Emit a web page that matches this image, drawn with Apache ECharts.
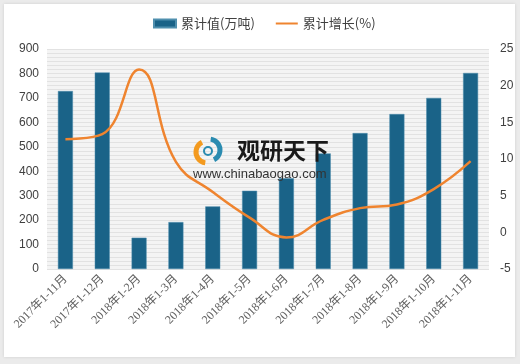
<!DOCTYPE html>
<html>
<head>
<meta charset="utf-8">
<script src="https://cdn.jsdelivr.net/npm/echarts@6/dist/echarts.min.js"></script>
<style>html,body{margin:0;padding:0;background:#ebebeb;}#c{width:520px;height:364px;}</style>
</head>
<body>
<div id="c"></div>
<script>
var categories = ['2017年1-11月','2017年1-12月','2018年1-2月','2018年1-3月','2018年1-4月','2018年1-5月','2018年1-6月','2018年1-7月','2018年1-8月','2018年1-9月','2018年1-10月','2018年1-11月'];
var cumulativeValue = [728, 804, 128, 192, 256, 320, 371, 473, 556, 634, 700, 802];
var cumulativeGrowth = [12.7, 13.4, 22.2, 9.6, 5.5, 2.0, -0.7, 1.7, 3.3, 3.8, 5.9, 9.7];
var leftTicks = {min: 0, max: 900, interval: 100};
var rightTicks = {min: -5, max: 25, interval: 5};

var chart = echarts.init(document.getElementById('c'), null, {renderer: 'canvas'});
var labelFont = '"Liberation Serif","Noto Sans CJK SC",serif';
chart.setOption({
  backgroundColor: '#ebebeb',
  animation: false,
  graphic: [
    {type: 'rect', z: -10, shape: {x: 4, y: 4, width: 511, height: 353}, style: {fill: '#ffffff', shadowBlur: 3, shadowColor: 'rgba(0,0,0,0.12)'}},
    {type: 'rect', z: -9, shape: {x: 47, y: 49, width: 442, height: 220}, style: {fill: '#f4f4f4'}},
    {type: 'arc', z: 100, shape: {cx: 207, cy: 152, r: 11, startAngle: Math.PI*0.55, endAngle: Math.PI*1.35}, style: {stroke: '#f39a1f', lineWidth: 5, fill: null}},
    {type: 'arc', z: 100, shape: {cx: 209, cy: 150, r: 11, startAngle: -Math.PI*0.45, endAngle: Math.PI*0.35}, style: {stroke: '#2a8bb0', lineWidth: 5, fill: null}},
    {type: 'arc', z: 100, shape: {cx: 208, cy: 151, r: 4, startAngle: 0, endAngle: Math.PI*2}, style: {stroke: '#2a8bb0', lineWidth: 2, fill: null}},
    {type: 'text', z: 100, x: 237, y: 139, style: {text: '观研天下', font: 'bold 23px "Noto Sans CJK SC"', fill: '#1a1a1a'}},
    {type: 'text', z: 100, x: 193, y: 168, style: {text: 'www.chinabaogao.com', font: '13px "Liberation Sans",Arial,sans-serif', fill: '#333333'}}
  ],
  legend: {
    top: 12,
    left: 148,
    itemGap: 20,
    itemWidth: 22,
    itemHeight: 8,
    textStyle: {fontSize: 13, color: '#404040', fontFamily: '"Noto Sans CJK SC",sans-serif'},
    data: [
      {name: '累计值(万吨)', icon: 'rect'},
      {name: '累计增长(%)', itemStyle: {opacity: 0}}
    ]
  },
  grid: {left: 47, right: 31, top: 49, bottom: 95, containLabel: false},
  xAxis: {
    type: 'category',
    data: categories,
    axisTick: {show: false},
    axisLine: {show: false},
    axisLabel: {rotate: 45, interval: 0, fontSize: 12, color: '#606060', fontFamily: labelFont, margin: 8}
  },
  yAxis: [
    {
      type: 'value', min: leftTicks.min, max: leftTicks.max, interval: leftTicks.interval,
      axisLine: {show: false}, axisTick: {show: false},
      axisLabel: {fontSize: 12, color: '#404040', fontFamily: '"Liberation Sans",Arial,sans-serif', margin: 8},
      splitLine: {show: true, lineStyle: {color: '#e2e2e2', width: 1}},
      minorTick: {show: false, splitNumber: 6},
      minorSplitLine: {show: true, lineStyle: {color: '#e2e2e2', width: 1}}
    },
    {
      type: 'value', min: rightTicks.min, max: rightTicks.max, interval: rightTicks.interval,
      axisLine: {show: false}, axisTick: {show: false},
      axisLabel: {fontSize: 12, color: '#404040', fontFamily: '"Liberation Sans",Arial,sans-serif', margin: 11},
      splitLine: {show: false}
    }
  ],
  series: [
    {
      name: '累计值(万吨)', type: 'bar', yAxisIndex: 0, data: cumulativeValue,
      barWidth: 15,
      itemStyle: {color: '#1a6388', borderColor: '#4f8fae', borderWidth: 0.5}
    },
    {
      name: '累计增长(%)', type: 'line', yAxisIndex: 1, data: cumulativeGrowth,
      smooth: 0.45, symbol: 'none', showSymbol: false,
      lineStyle: {color: '#ef842f', width: 2.5},
      itemStyle: {color: '#ef842f'}
    }
  ]
});
</script>
</body>
</html>
